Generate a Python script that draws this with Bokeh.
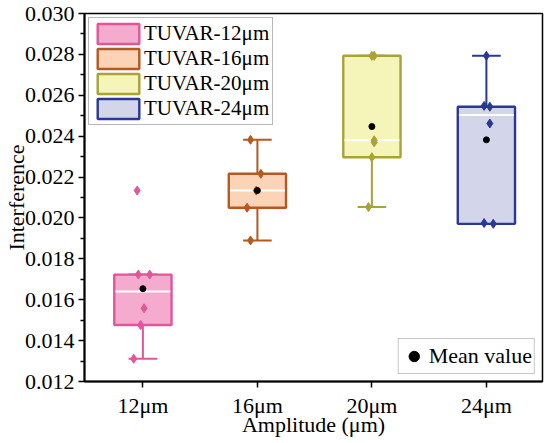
from bokeh.plotting import figure
from bokeh.models import FixedTicker, Legend, LegendItem
from bokeh.embed import file_html
from bokeh.resources import INLINE

# ---- data ----
groups = ["12μm", "16μm", "20μm", "24μm"]
labels = ["TUVAR-12μm", "TUVAR-16μm", "TUVAR-20μm", "TUVAR-24μm"]
xpos = [1, 2, 3, 4]

q1 = [0.01476, 0.02050, 0.02297, 0.01971]
median = [0.01640, 0.02134, 0.02380, 0.02503]
q3 = [0.01723, 0.02216, 0.02793, 0.02544]
whisk_lo = [0.01311, 0.01890, 0.02053, 0.01971]
whisk_hi = [0.01723, 0.02382, 0.02793, 0.02793]
means = [0.01654, 0.02134, 0.02447, 0.02382]

pts_12 = [0.02134, 0.01723, 0.01723, 0.01558, 0.01476, 0.01311]
pts_16 = [0.02382, 0.02216, 0.02134, 0.02050, 0.01890]
pts_20 = [0.02793, 0.02793, 0.02380, 0.02370, 0.02297, 0.02053]
pts_24 = [0.02793, 0.02548, 0.02544, 0.02462, 0.01975, 0.01971]
points = [pts_12, pts_16, pts_20, pts_24]
jit_12 = [-0.05, -0.04, 0.06, 0.01, -0.02, -0.08]
jit_16 = [-0.06, 0.03, -0.01, -0.09, -0.06]
jit_20 = [0.0, 0.02, 0.02, 0.02, 0.0, -0.03]
jit_24 = [0.0, -0.02, 0.03, 0.03, -0.02, 0.06]
jitter = [jit_12, jit_16, jit_20, jit_24]

y_ticks = [0.012, 0.014, 0.016, 0.018, 0.020, 0.022, 0.024, 0.026, 0.028, 0.030]
y_minor = [0.013, 0.015, 0.017, 0.019, 0.021, 0.023, 0.025, 0.027, 0.029]

# ---- styles ----
edge = ["#E4549B", "#B5591F", "#A9A236", "#283896"]
fill = ["#F5ABCD", "#FBD4B7", "#F5F4B9", "#D3D6EB"]
FONT = "Liberation Serif"
box_w = 0.5
cap_w = 0.25

p = figure(frame_width=458, frame_height=368, x_range=(0.49, 4.49), y_range=(0.012, 0.030),
           output_backend="svg", toolbar_location=None,
           min_border_left=10, min_border_top=13, min_border_right=3, min_border_bottom=5)
p.background_fill_color = "white"
p.border_fill_color = "white"
p.grid.visible = False
p.outline_line_color = "black"
p.outline_line_width = 1.5
p.outline_line_alpha = 1

legend_items = []
for i in range(4):
    x = xpos[i]
    # whiskers
    p.segment(x0=[x, x], y0=[whisk_lo[i], q3[i]], x1=[x, x], y1=[q1[i], whisk_hi[i]],
              line_color=edge[i], line_width=2)
    p.segment(x0=[x - cap_w / 2, x - cap_w / 2], y0=[whisk_lo[i], whisk_hi[i]],
              x1=[x + cap_w / 2, x + cap_w / 2], y1=[whisk_lo[i], whisk_hi[i]],
              line_color=edge[i], line_width=2)
    # box
    r = p.quad(left=[x - box_w / 2], right=[x + box_w / 2], bottom=[q1[i]], top=[q3[i]],
               fill_color=fill[i], line_color=edge[i], line_width=2.4)
    legend_items.append(LegendItem(label=labels[i], renderers=[r]))
    # median
    p.segment(x0=[x - box_w / 2 + 0.01], y0=[median[i]], x1=[x + box_w / 2 - 0.01], y1=[median[i]],
              line_color="white", line_width=2)
    # points
    px = [x + j for j in jitter[i]]
    p.scatter(px, points[i], marker="diamond", size=9, fill_color=edge[i], line_color=edge[i])

mean_r = p.scatter(xpos, means, marker="circle", size=6, fill_color="black", line_color="black")

leg1 = Legend(items=legend_items, location="top_left", margin=4, padding=3, spacing=0,
              glyph_width=52, glyph_height=25, label_standoff=0,
              label_text_font=FONT, label_text_font_size="21px", label_text_color="black",
              border_line_color="#707070", border_line_width=1.2,
              background_fill_alpha=1)
leg2 = Legend(items=[LegendItem(label="Mean value", renderers=[mean_r])], location="bottom_right",
              margin=7, padding=2, glyph_width=26, glyph_height=30, label_standoff=2,
              label_text_font=FONT, label_text_font_size="22px", label_text_color="black",
              border_line_color="#909090", border_line_width=1.2)
p.add_layout(leg1)
p.add_layout(leg2)

# axes
p.yaxis.ticker = FixedTicker(ticks=y_ticks, minor_ticks=y_minor)
p.yaxis.major_label_overrides = {t: f"{t:.3f}" for t in y_ticks}
p.xaxis.ticker = FixedTicker(ticks=xpos, minor_ticks=[])
p.xaxis.major_label_overrides = {xpos[i]: groups[i] for i in range(4)}

for ax in (p.xaxis, p.yaxis):
    ax.axis_line_color = "black"
    ax.axis_line_width = 2
    ax.major_tick_line_color = "black"
    ax.major_tick_line_width = 1.5
    ax.major_tick_out = 6
    ax.major_tick_in = 0
    ax.minor_tick_line_color = "black"
    ax.minor_tick_line_width = 1.5
    ax.minor_tick_out = 4
    ax.minor_tick_in = 0
    ax.major_label_text_font = FONT
    ax.major_label_text_font_size = "22px"
    ax.major_label_text_color = "black"
    ax.axis_label_text_font = FONT
    ax.axis_label_text_font_size = "22px"
    ax.axis_label_text_font_style = "normal"
    ax.axis_label_text_color = "black"

p.xaxis.axis_label = "Amplitude (μm)"
p.yaxis.axis_label = "Interference"
p.yaxis.major_label_standoff = 4
p.yaxis.axis_label_standoff = -7
p.xaxis.major_label_standoff = 5
p.xaxis.axis_label_standoff = -9

open("out.html", "w").write(file_html(p, INLINE))
